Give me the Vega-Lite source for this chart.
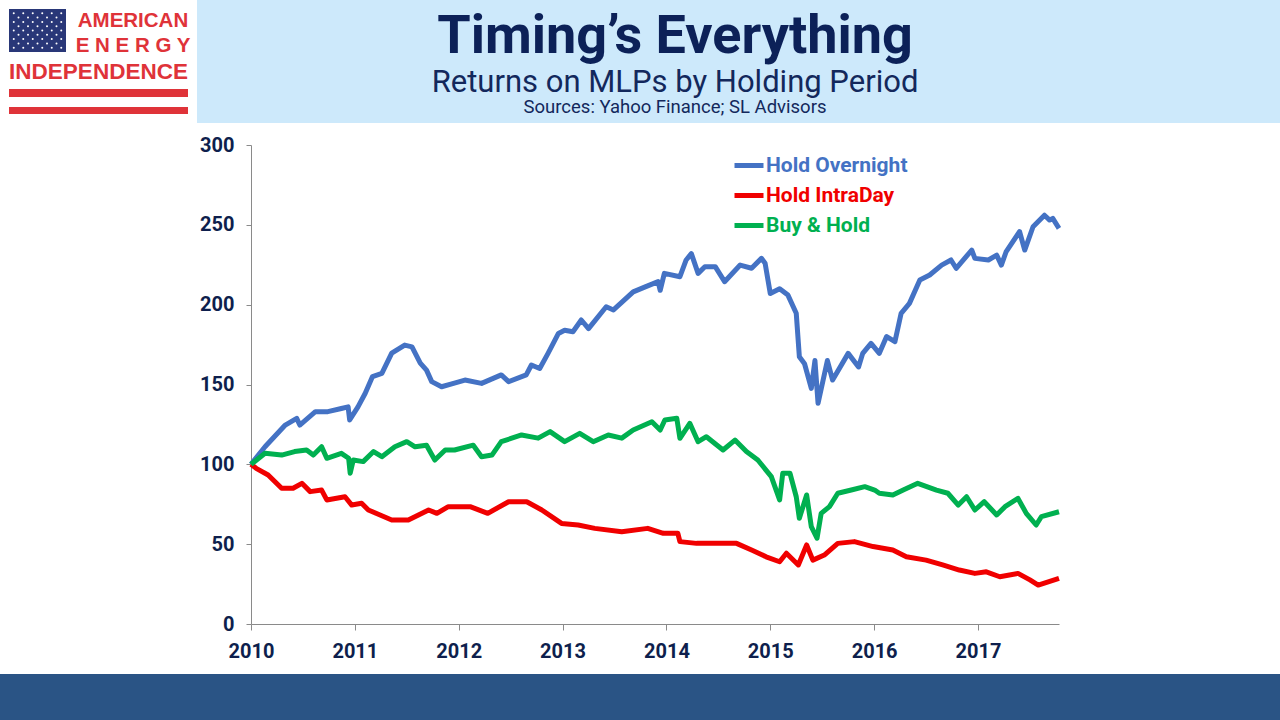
{
  "$schema": "https://vega.github.io/schema/vega-lite/v6.json",
  "padding": 0,
  "background": "white",
  "spacing": 0,
  "config": {
    "view": {"stroke": null},
    "concat": {"spacing": 0},
    "axis": {
      "labelFont": "Roboto", "labelFontSize": 20, "labelFontWeight": "bold", "labelColor": "#0e1f4d",
      "domainColor": "#8a8a8a", "tickColor": "#8a8a8a", "grid": false, "title": null, "labelFlush": false
    }
  },
  "vconcat": [
    {
      "hconcat": [
        {
          "vconcat": [
            {"width": 197, "height": 9, "data": {"values": []}, "mark": "point"},
            {
              "hconcat": [
                {"width": 9, "height": 49, "data": {"values": []}, "mark": "point"},
                {
                  "width": 57, "height": 43,
                  "view": {"fill": "#293778", "stroke": null},
                  "data": {"values": [
                    {"r": 1, "c": [1, 3, 5, 7, 9, 11]}, {"r": 2, "c": [2, 4, 6, 8, 10]},
                    {"r": 3, "c": [1, 3, 5, 7, 9, 11]}, {"r": 4, "c": [2, 4, 6, 8, 10]},
                    {"r": 5, "c": [1, 3, 5, 7, 9, 11]}, {"r": 6, "c": [2, 4, 6, 8, 10]},
                    {"r": 7, "c": [1, 3, 5, 7, 9, 11]}, {"r": 8, "c": [2, 4, 6, 8, 10]},
                    {"r": 9, "c": [1, 3, 5, 7, 9, 11]}
                  ]},
                  "transform": [{"flatten": ["c"]}],
                  "mark": {"type": "point", "filled": true, "color": "white", "size": 4, "opacity": 1},
                  "encoding": {
                    "x": {"field": "c", "type": "quantitative", "scale": {"domain": [0, 12]}, "axis": null},
                    "y": {"field": "r", "type": "quantitative", "scale": {"domain": [0, 10]}, "axis": null}
                  }
                },
                {"width": 9, "height": 49, "data": {"values": []}, "mark": "point"},
                {
                  "vconcat": [
                    {
                      "width": 116, "height": 24,
                      "data": {"values": [{"label": "AMERICAN"}]},
                      "mark": {"type": "text", "font": "Liberation Sans", "fontSize": 20.5, "fontWeight": "bold", "color": "#df3339", "baseline": "middle"},
                      "encoding": {"text": {"field": "label"}}
                    },
                    {
                      "width": 116, "height": 25,
                      "data": {"values": [{"label": "E N E R G Y"}]},
                      "mark": {"type": "text", "font": "Liberation Sans", "fontSize": 20.5, "fontWeight": "bold", "color": "#df3339", "baseline": "middle"},
                      "encoding": {"text": {"field": "label"}}
                    }
                  ],
                  "spacing": 0
                },
                {"width": 6, "height": 49, "data": {"values": []}, "mark": "point"}
              ],
              "spacing": 0
            },
            {
              "width": 197, "height": 27,
              "data": {"values": [{"label": "INDEPENDENCE"}]},
              "mark": {"type": "text", "font": "Liberation Sans", "fontSize": 22.5, "fontWeight": "bold", "color": "#df3339", "baseline": "middle"},
              "encoding": {"text": {"field": "label"}}
            },
            {"width": 197, "height": 4, "data": {"values": []}, "mark": "point"},
            {
              "hconcat": [
                {"width": 9, "height": 8, "data": {"values": []}, "mark": "point"},
                {"width": 179, "height": 8, "view": {"fill": "#df3339", "stroke": null}, "data": {"values": []}, "mark": "point"},
                {"width": 9, "height": 8, "data": {"values": []}, "mark": "point"}
              ],
              "spacing": 0
            },
            {"width": 197, "height": 10, "data": {"values": []}, "mark": "point"},
            {
              "hconcat": [
                {"width": 9, "height": 7, "data": {"values": []}, "mark": "point"},
                {"width": 179, "height": 7, "view": {"fill": "#df3339", "stroke": null}, "data": {"values": []}, "mark": "point"},
                {"width": 9, "height": 7, "data": {"values": []}, "mark": "point"}
              ],
              "spacing": 0
            },
            {"width": 197, "height": 9, "data": {"values": []}, "mark": "point"}
          ],
          "spacing": 0
        },
        {
          "vconcat": [
            {
              "width": 956, "height": 74,
              "view": {"fill": "#cde9fb", "stroke": null},
              "data": {"values": [{"label": "Timing’s Everything"}]},
              "mark": {"type": "text", "font": "Roboto", "fontSize": 54, "fontWeight": "bold", "color": "#0c2158", "baseline": "middle"},
              "encoding": {"text": {"field": "label"}}
            },
            {
              "width": 956, "height": 36,
              "view": {"fill": "#cde9fb", "stroke": null},
              "data": {"values": [{"label": "Returns on MLPs by Holding Period"}]},
              "mark": {"type": "text", "font": "Roboto", "fontSize": 31, "color": "#13285c", "baseline": "alphabetic"},
              "encoding": {"text": {"field": "label"}}
            },
            {
              "width": 956, "height": 13,
              "view": {"fill": "#cde9fb", "stroke": null},
              "data": {"values": [{"label": "Sources: Yahoo Finance; SL Advisors"}]},
              "mark": {"type": "text", "font": "Roboto", "fontSize": 18.5, "color": "#13285c", "baseline": "bottom"},
              "encoding": {"text": {"field": "label"}}
            }
          ],
          "spacing": 0, "bounds": "flush"
        },
        {"width": 127, "height": 123, "view": {"fill": "#cde9fb", "stroke": null}, "data": {"values": []}, "mark": "point"}
      ],
      "spacing": 0
    },
    {"width": 1280, "height": 12, "data": {"values": []}, "mark": "point"},
    {
      "hconcat": [
        {"width": 251, "height": 479, "data": {"values": []}, "mark": "point"},
        {
          "width": 808, "height": 479,
          "data": {"values": [
            {"series": "Hold Overnight", "year": 2010.0, "value": 100},
            {"series": "Hold Overnight", "year": 2010.135, "value": 111},
            {"series": "Hold Overnight", "year": 2010.33, "value": 124.6},
            {"series": "Hold Overnight", "year": 2010.44, "value": 128.8},
            {"series": "Hold Overnight", "year": 2010.47, "value": 124.6},
            {"series": "Hold Overnight", "year": 2010.62, "value": 133},
            {"series": "Hold Overnight", "year": 2010.74, "value": 133},
            {"series": "Hold Overnight", "year": 2010.87, "value": 135},
            {"series": "Hold Overnight", "year": 2010.935, "value": 136},
            {"series": "Hold Overnight", "year": 2010.95, "value": 127.8},
            {"series": "Hold Overnight", "year": 2011.03, "value": 136},
            {"series": "Hold Overnight", "year": 2011.1, "value": 144.5},
            {"series": "Hold Overnight", "year": 2011.17, "value": 155},
            {"series": "Hold Overnight", "year": 2011.26, "value": 157},
            {"series": "Hold Overnight", "year": 2011.355, "value": 169.6},
            {"series": "Hold Overnight", "year": 2011.48, "value": 174.7},
            {"series": "Hold Overnight", "year": 2011.55, "value": 173.6},
            {"series": "Hold Overnight", "year": 2011.63, "value": 163.4},
            {"series": "Hold Overnight", "year": 2011.69, "value": 159},
            {"series": "Hold Overnight", "year": 2011.74, "value": 151.8},
            {"series": "Hold Overnight", "year": 2011.835, "value": 148.6},
            {"series": "Hold Overnight", "year": 2011.95, "value": 150.7},
            {"series": "Hold Overnight", "year": 2012.06, "value": 152.8},
            {"series": "Hold Overnight", "year": 2012.22, "value": 150.7},
            {"series": "Hold Overnight", "year": 2012.41, "value": 156},
            {"series": "Hold Overnight", "year": 2012.48, "value": 151.8},
            {"series": "Hold Overnight", "year": 2012.65, "value": 156},
            {"series": "Hold Overnight", "year": 2012.7, "value": 162.2},
            {"series": "Hold Overnight", "year": 2012.78, "value": 160},
            {"series": "Hold Overnight", "year": 2012.86, "value": 169.5},
            {"series": "Hold Overnight", "year": 2012.96, "value": 182},
            {"series": "Hold Overnight", "year": 2013.02, "value": 184},
            {"series": "Hold Overnight", "year": 2013.1, "value": 183},
            {"series": "Hold Overnight", "year": 2013.18, "value": 190.4},
            {"series": "Hold Overnight", "year": 2013.25, "value": 185},
            {"series": "Hold Overnight", "year": 2013.42, "value": 198.7},
            {"series": "Hold Overnight", "year": 2013.49, "value": 196.7},
            {"series": "Hold Overnight", "year": 2013.68, "value": 208},
            {"series": "Hold Overnight", "year": 2013.79, "value": 211},
            {"series": "Hold Overnight", "year": 2013.92, "value": 214.4},
            {"series": "Hold Overnight", "year": 2013.94, "value": 209},
            {"series": "Hold Overnight", "year": 2013.98, "value": 219.6},
            {"series": "Hold Overnight", "year": 2014.13, "value": 217.5},
            {"series": "Hold Overnight", "year": 2014.19, "value": 228},
            {"series": "Hold Overnight", "year": 2014.24, "value": 232},
            {"series": "Hold Overnight", "year": 2014.305, "value": 219.6},
            {"series": "Hold Overnight", "year": 2014.37, "value": 223.8},
            {"series": "Hold Overnight", "year": 2014.47, "value": 223.8},
            {"series": "Hold Overnight", "year": 2014.56, "value": 214.4},
            {"series": "Hold Overnight", "year": 2014.71, "value": 224.8},
            {"series": "Hold Overnight", "year": 2014.82, "value": 222.8},
            {"series": "Hold Overnight", "year": 2014.915, "value": 229},
            {"series": "Hold Overnight", "year": 2014.95, "value": 226},
            {"series": "Hold Overnight", "year": 2015.0, "value": 207},
            {"series": "Hold Overnight", "year": 2015.09, "value": 210},
            {"series": "Hold Overnight", "year": 2015.17, "value": 206},
            {"series": "Hold Overnight", "year": 2015.25, "value": 194.6},
            {"series": "Hold Overnight", "year": 2015.28, "value": 167.4},
            {"series": "Hold Overnight", "year": 2015.33, "value": 163},
            {"series": "Hold Overnight", "year": 2015.395, "value": 147.6},
            {"series": "Hold Overnight", "year": 2015.43, "value": 165},
            {"series": "Hold Overnight", "year": 2015.46, "value": 138.2},
            {"series": "Hold Overnight", "year": 2015.55, "value": 165},
            {"series": "Hold Overnight", "year": 2015.6, "value": 152.8},
            {"series": "Hold Overnight", "year": 2015.75, "value": 169.5},
            {"series": "Hold Overnight", "year": 2015.85, "value": 161},
            {"series": "Hold Overnight", "year": 2015.89, "value": 169.5},
            {"series": "Hold Overnight", "year": 2015.97, "value": 175.8},
            {"series": "Hold Overnight", "year": 2016.05, "value": 169.5},
            {"series": "Hold Overnight", "year": 2016.12, "value": 180},
            {"series": "Hold Overnight", "year": 2016.2, "value": 176.8},
            {"series": "Hold Overnight", "year": 2016.26, "value": 194.6},
            {"series": "Hold Overnight", "year": 2016.34, "value": 200.8},
            {"series": "Hold Overnight", "year": 2016.44, "value": 215.4},
            {"series": "Hold Overnight", "year": 2016.535, "value": 218.6},
            {"series": "Hold Overnight", "year": 2016.65, "value": 224.8},
            {"series": "Hold Overnight", "year": 2016.74, "value": 228},
            {"series": "Hold Overnight", "year": 2016.79, "value": 222.8},
            {"series": "Hold Overnight", "year": 2016.94, "value": 234.2},
            {"series": "Hold Overnight", "year": 2016.97, "value": 229},
            {"series": "Hold Overnight", "year": 2017.1, "value": 228},
            {"series": "Hold Overnight", "year": 2017.18, "value": 231},
            {"series": "Hold Overnight", "year": 2017.225, "value": 224.8},
            {"series": "Hold Overnight", "year": 2017.27, "value": 233},
            {"series": "Hold Overnight", "year": 2017.4, "value": 245.8},
            {"series": "Hold Overnight", "year": 2017.45, "value": 234.2},
            {"series": "Hold Overnight", "year": 2017.53, "value": 248.8},
            {"series": "Hold Overnight", "year": 2017.64, "value": 256},
            {"series": "Hold Overnight", "year": 2017.69, "value": 253},
            {"series": "Hold Overnight", "year": 2017.72, "value": 254},
            {"series": "Hold Overnight", "year": 2017.78, "value": 247.8},

            {"series": "Hold IntraDay", "year": 2010.0, "value": 100},
            {"series": "Hold IntraDay", "year": 2010.05, "value": 97.5},
            {"series": "Hold IntraDay", "year": 2010.165, "value": 93.3},
            {"series": "Hold IntraDay", "year": 2010.295, "value": 85},
            {"series": "Hold IntraDay", "year": 2010.405, "value": 85},
            {"series": "Hold IntraDay", "year": 2010.49, "value": 88.1},
            {"series": "Hold IntraDay", "year": 2010.57, "value": 82.9},
            {"series": "Hold IntraDay", "year": 2010.68, "value": 83.9},
            {"series": "Hold IntraDay", "year": 2010.73, "value": 77.7},
            {"series": "Hold IntraDay", "year": 2010.905, "value": 79.7},
            {"series": "Hold IntraDay", "year": 2010.97, "value": 74.5},
            {"series": "Hold IntraDay", "year": 2011.065, "value": 75.6},
            {"series": "Hold IntraDay", "year": 2011.13, "value": 71.4},
            {"series": "Hold IntraDay", "year": 2011.355, "value": 65.1},
            {"series": "Hold IntraDay", "year": 2011.515, "value": 65.1},
            {"series": "Hold IntraDay", "year": 2011.71, "value": 71.4},
            {"series": "Hold IntraDay", "year": 2011.79, "value": 69.3},
            {"series": "Hold IntraDay", "year": 2011.9, "value": 73.5},
            {"series": "Hold IntraDay", "year": 2012.11, "value": 73.5},
            {"series": "Hold IntraDay", "year": 2012.28, "value": 69.3},
            {"series": "Hold IntraDay", "year": 2012.48, "value": 76.6},
            {"series": "Hold IntraDay", "year": 2012.655, "value": 76.6},
            {"series": "Hold IntraDay", "year": 2012.8, "value": 71.4},
            {"series": "Hold IntraDay", "year": 2012.99, "value": 63},
            {"series": "Hold IntraDay", "year": 2013.15, "value": 62},
            {"series": "Hold IntraDay", "year": 2013.31, "value": 59.9},
            {"series": "Hold IntraDay", "year": 2013.57, "value": 57.8},
            {"series": "Hold IntraDay", "year": 2013.82, "value": 59.9},
            {"series": "Hold IntraDay", "year": 2013.97, "value": 56.8},
            {"series": "Hold IntraDay", "year": 2014.11, "value": 56.8},
            {"series": "Hold IntraDay", "year": 2014.13, "value": 51.6},
            {"series": "Hold IntraDay", "year": 2014.29, "value": 50.5},
            {"series": "Hold IntraDay", "year": 2014.47, "value": 50.5},
            {"series": "Hold IntraDay", "year": 2014.675, "value": 50.5},
            {"series": "Hold IntraDay", "year": 2014.82, "value": 46.3},
            {"series": "Hold IntraDay", "year": 2014.96, "value": 42.1},
            {"series": "Hold IntraDay", "year": 2015.09, "value": 39},
            {"series": "Hold IntraDay", "year": 2015.155, "value": 44.3},
            {"series": "Hold IntraDay", "year": 2015.27, "value": 37},
            {"series": "Hold IntraDay", "year": 2015.35, "value": 49.5},
            {"series": "Hold IntraDay", "year": 2015.41, "value": 40},
            {"series": "Hold IntraDay", "year": 2015.52, "value": 43.2},
            {"series": "Hold IntraDay", "year": 2015.65, "value": 50.5},
            {"series": "Hold IntraDay", "year": 2015.81, "value": 51.6},
            {"series": "Hold IntraDay", "year": 2015.99, "value": 48.5},
            {"series": "Hold IntraDay", "year": 2016.18, "value": 46.3},
            {"series": "Hold IntraDay", "year": 2016.31, "value": 42.1},
            {"series": "Hold IntraDay", "year": 2016.5, "value": 40},
            {"series": "Hold IntraDay", "year": 2016.66, "value": 37},
            {"series": "Hold IntraDay", "year": 2016.82, "value": 33.8},
            {"series": "Hold IntraDay", "year": 2016.97, "value": 31.7},
            {"series": "Hold IntraDay", "year": 2017.08, "value": 32.7},
            {"series": "Hold IntraDay", "year": 2017.21, "value": 29.6},
            {"series": "Hold IntraDay", "year": 2017.385, "value": 31.7},
            {"series": "Hold IntraDay", "year": 2017.5, "value": 27.6},
            {"series": "Hold IntraDay", "year": 2017.58, "value": 24.4},
            {"series": "Hold IntraDay", "year": 2017.78, "value": 28.6},

            {"series": "Buy & Hold", "year": 2010.0, "value": 100},
            {"series": "Buy & Hold", "year": 2010.135, "value": 106.9},
            {"series": "Buy & Hold", "year": 2010.295, "value": 105.8},
            {"series": "Buy & Hold", "year": 2010.42, "value": 108},
            {"series": "Buy & Hold", "year": 2010.535, "value": 109},
            {"series": "Buy & Hold", "year": 2010.6, "value": 105.8},
            {"series": "Buy & Hold", "year": 2010.68, "value": 111},
            {"series": "Buy & Hold", "year": 2010.73, "value": 103.8},
            {"series": "Buy & Hold", "year": 2010.87, "value": 106.9},
            {"series": "Buy & Hold", "year": 2010.94, "value": 103.8},
            {"series": "Buy & Hold", "year": 2010.955, "value": 94.4},
            {"series": "Buy & Hold", "year": 2010.985, "value": 102.7},
            {"series": "Buy & Hold", "year": 2011.08, "value": 101.7},
            {"series": "Buy & Hold", "year": 2011.18, "value": 108},
            {"series": "Buy & Hold", "year": 2011.26, "value": 104.8},
            {"series": "Buy & Hold", "year": 2011.385, "value": 111},
            {"series": "Buy & Hold", "year": 2011.5, "value": 114.2},
            {"series": "Buy & Hold", "year": 2011.58, "value": 111},
            {"series": "Buy & Hold", "year": 2011.69, "value": 112},
            {"series": "Buy & Hold", "year": 2011.77, "value": 102.7},
            {"series": "Buy & Hold", "year": 2011.87, "value": 109},
            {"series": "Buy & Hold", "year": 2011.96, "value": 109},
            {"series": "Buy & Hold", "year": 2012.14, "value": 112},
            {"series": "Buy & Hold", "year": 2012.22, "value": 104.8},
            {"series": "Buy & Hold", "year": 2012.32, "value": 105.8},
            {"series": "Buy & Hold", "year": 2012.41, "value": 114.2},
            {"series": "Buy & Hold", "year": 2012.605, "value": 118.4},
            {"series": "Buy & Hold", "year": 2012.765, "value": 116.4},
            {"series": "Buy & Hold", "year": 2012.88, "value": 120.5},
            {"series": "Buy & Hold", "year": 2013.02, "value": 114.2},
            {"series": "Buy & Hold", "year": 2013.165, "value": 119.4},
            {"series": "Buy & Hold", "year": 2013.295, "value": 114.2},
            {"series": "Buy & Hold", "year": 2013.44, "value": 118.4},
            {"series": "Buy & Hold", "year": 2013.57, "value": 116.4},
            {"series": "Buy & Hold", "year": 2013.68, "value": 121.5},
            {"series": "Buy & Hold", "year": 2013.86, "value": 126.7},
            {"series": "Buy & Hold", "year": 2013.94, "value": 121.5},
            {"series": "Buy & Hold", "year": 2013.985, "value": 127.8},
            {"series": "Buy & Hold", "year": 2014.1, "value": 128.8},
            {"series": "Buy & Hold", "year": 2014.13, "value": 116.3},
            {"series": "Buy & Hold", "year": 2014.225, "value": 125.7},
            {"series": "Buy & Hold", "year": 2014.305, "value": 114.2},
            {"series": "Buy & Hold", "year": 2014.385, "value": 117.3},
            {"series": "Buy & Hold", "year": 2014.545, "value": 109},
            {"series": "Buy & Hold", "year": 2014.66, "value": 115.2},
            {"series": "Buy & Hold", "year": 2014.77, "value": 108},
            {"series": "Buy & Hold", "year": 2014.88, "value": 102.7},
            {"series": "Buy & Hold", "year": 2015.01, "value": 92.3},
            {"series": "Buy & Hold", "year": 2015.09, "value": 77.7},
            {"series": "Buy & Hold", "year": 2015.12, "value": 94.4},
            {"series": "Buy & Hold", "year": 2015.19, "value": 94.4},
            {"series": "Buy & Hold", "year": 2015.25, "value": 79.7},
            {"series": "Buy & Hold", "year": 2015.28, "value": 66.2},
            {"series": "Buy & Hold", "year": 2015.35, "value": 80.8},
            {"series": "Buy & Hold", "year": 2015.395, "value": 61},
            {"series": "Buy & Hold", "year": 2015.45, "value": 53.7},
            {"series": "Buy & Hold", "year": 2015.49, "value": 69.3},
            {"series": "Buy & Hold", "year": 2015.57, "value": 73.5},
            {"series": "Buy & Hold", "year": 2015.65, "value": 81.9},
            {"series": "Buy & Hold", "year": 2015.78, "value": 83.9},
            {"series": "Buy & Hold", "year": 2015.91, "value": 86},
            {"series": "Buy & Hold", "year": 2016.005, "value": 83.9},
            {"series": "Buy & Hold", "year": 2016.05, "value": 81.9},
            {"series": "Buy & Hold", "year": 2016.18, "value": 80.8},
            {"series": "Buy & Hold", "year": 2016.28, "value": 83.9},
            {"series": "Buy & Hold", "year": 2016.42, "value": 88.1},
            {"series": "Buy & Hold", "year": 2016.6, "value": 83.9},
            {"series": "Buy & Hold", "year": 2016.71, "value": 81.9},
            {"series": "Buy & Hold", "year": 2016.81, "value": 74.5},
            {"series": "Buy & Hold", "year": 2016.89, "value": 79.7},
            {"series": "Buy & Hold", "year": 2016.97, "value": 71.4},
            {"series": "Buy & Hold", "year": 2017.06, "value": 76.6},
            {"series": "Buy & Hold", "year": 2017.18, "value": 68.3},
            {"series": "Buy & Hold", "year": 2017.26, "value": 73.5},
            {"series": "Buy & Hold", "year": 2017.385, "value": 78.7},
            {"series": "Buy & Hold", "year": 2017.465, "value": 69.3},
            {"series": "Buy & Hold", "year": 2017.56, "value": 62},
            {"series": "Buy & Hold", "year": 2017.61, "value": 67.2},
            {"series": "Buy & Hold", "year": 2017.78, "value": 70.3}
          ]},
          "mark": {"type": "line", "strokeWidth": 5, "strokeJoin": "round"},
          "encoding": {
            "x": {
              "field": "year", "type": "quantitative",
              "scale": {"domain": [2010, 2017.78], "nice": false, "zero": false},
              "axis": {"values": [2010, 2011, 2012, 2013, 2014, 2015, 2016, 2017], "format": "d", "tickSize": 6, "labelPadding": 11}
            },
            "y": {
              "field": "value", "type": "quantitative",
              "scale": {"domain": [0, 300], "nice": false},
              "axis": {"values": [0, 50, 100, 150, 200, 250, 300], "tickSize": 5, "labelPadding": 12}
            },
            "color": {
              "field": "series", "type": "nominal",
              "scale": {"domain": ["Hold Overnight", "Hold IntraDay", "Buy & Hold"], "range": ["#4472c4", "#f00000", "#00b050"]},
              "legend": {
                "orient": "none", "legendX": 732, "legendY": 148.5, "title": null, "padding": 0,
                "symbolType": "stroke", "symbolSize": 841, "symbolStrokeWidth": 5,
                "labelFont": "Roboto", "labelFontSize": 21, "labelFontWeight": "bold", "labelOffset": 0, "labelLimit": 300,
                "rowPadding": 3,
                "encode": {"labels": {"update": {"fill": {"signal": "scale('color', datum.value)"}}}}
              }
            }
          }
        },
        {"width": 221, "height": 479, "data": {"values": []}, "mark": "point"}
      ],
      "spacing": 0, "bounds": "flush"
    },
    {"width": 1280, "height": 13, "data": {"values": []}, "mark": "point"},
    {"width": 1280, "height": 46, "view": {"fill": "#2a5485", "stroke": null}, "data": {"values": []}, "mark": "point"}
  ]
}
